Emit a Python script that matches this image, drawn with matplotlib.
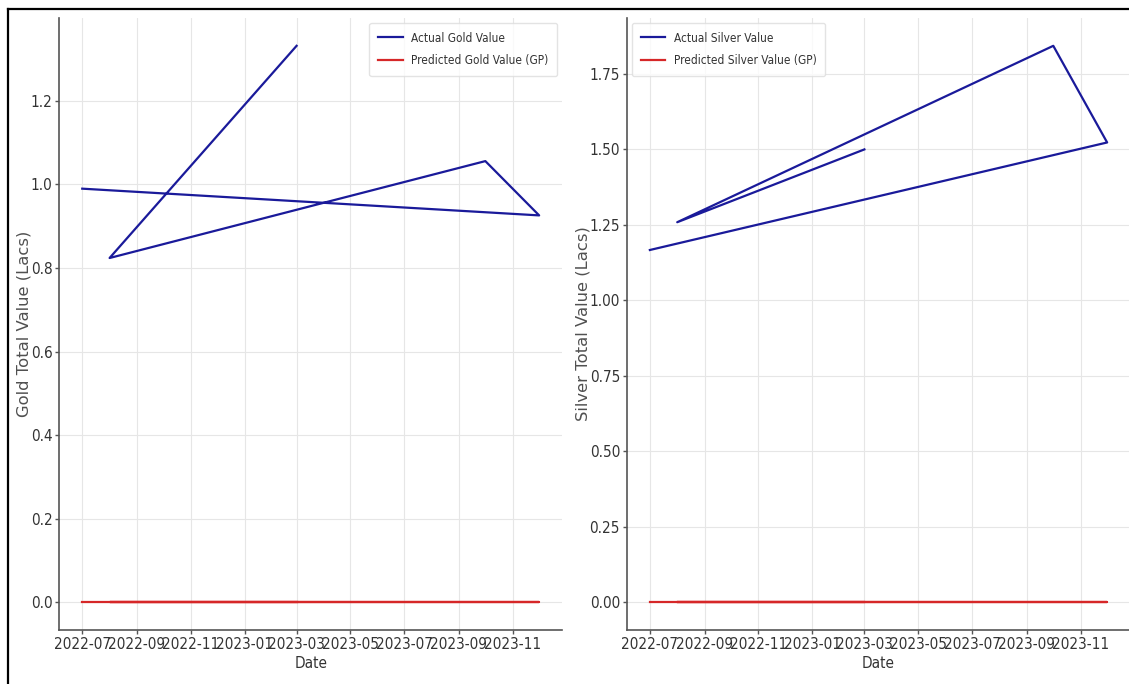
import numpy as np
import pandas as pd
import matplotlib
matplotlib.use('Agg')
import matplotlib.pyplot as plt
import matplotlib.dates as mdates
from matplotlib import font_manager as fm
from matplotlib.lines import Line2D

# data (dates come unsorted, as in the original)
dates = ['2022-07-01', '2023-12-01', '2023-10-01', '2022-08-01', '2023-03-01']
gold_actual = [0.990, 0.926, 1.056, 0.824, 1.332]
gold_pred = [0.0, 0.0, 0.0, 0.0, 0.0]
silver_actual = [1.166, 1.522, 1.842, 1.258, 1.499]
silver_pred = [0.0, 0.0, 0.0, 0.0, 0.0]

x = pd.to_datetime(dates)

# the screenshot is squeezed sideways, so a condensed face fits the text better
cond = fm.FontProperties(family='DejaVu Sans', stretch='condensed')
if 'Condensed' not in fm.findfont(cond):
    cond = fm.FontProperties(family='DejaVu Sans')

W, H = 1129, 684
fig = plt.figure(figsize=(W / 100, H / 100), dpi=100)
fig.patch.set_facecolor('white')

txt_col = '#333333'
spine_col = '#555555'

def px_box(x0, x1, y_top, y_bot):
    return [x0 / W, 1 - y_bot / H, (x1 - x0) / W, (y_bot - y_top) / H]

ax1 = fig.add_axes(px_box(59.4, 562, 18, 630))
ax2 = fig.add_axes(px_box(627, 1130, 18, 630))

panels = [
    (ax1, gold_actual, gold_pred, 'Gold', 'upper right'),
    (ax2, silver_actual, silver_pred, 'Silver', 'upper left'),
]

leg_prop = cond.copy()
leg_prop.set_size(8.5)

for ax, actual, pred, metal, loc in panels:
    ax.plot(x, actual, color='#1a1a9a', lw=1.6, label='Actual %s Value' % metal)
    ax.plot(x, pred, color='#d62728', lw=1.6, label='Predicted %s Value (GP)' % metal)
    ax.xaxis.set_major_locator(mdates.MonthLocator(bymonth=[1, 3, 5, 7, 9, 11]))
    ax.xaxis.set_major_formatter(mdates.DateFormatter('%Y-%m'))
    ax.grid(True, color='#e6e6e6', lw=0.8)
    ax.set_axisbelow(True)
    for s in ['top', 'right']:
        ax.spines[s].set_visible(False)
    for s in ['left', 'bottom']:
        ax.spines[s].set_color(spine_col)
        ax.spines[s].set_linewidth(1.2)
    ax.tick_params(colors=spine_col, labelcolor=txt_col, length=3, width=1, pad=2)
    ax.set_xlabel('Date', fontproperties=cond, fontsize=11, color=txt_col, labelpad=3)
    ax.set_ylabel('%s Total Value (Lacs)' % metal, fontsize=11.8, color='#505050',
                  labelpad=-1)
    leg = ax.legend(loc=loc, prop=leg_prop, frameon=True, handlelength=2.1,
                    handletextpad=0.7, labelspacing=0.8, borderpad=0.75,
                    borderaxespad=0.4)
    for t in leg.get_texts():
        t.set_color(txt_col)
    leg.get_frame().set_edgecolor('#dddddd')

ax1.set_yticks(np.arange(0, 1.3, 0.2))
ax2.set_yticks(np.arange(0, 1.8, 0.25))
ax2.yaxis.set_major_formatter(matplotlib.ticker.FormatStrFormatter('%.2f'))
for ax in (ax1, ax2):
    for lab in ax.get_xticklabels() + ax.get_yticklabels():
        lab.set_fontproperties(cond)
        lab.set_fontsize(11)

# screenshot border (top and left edges)
fig.add_artist(Line2D([7.5 / W, 1], [1 - 9 / H, 1 - 9 / H], color='black', lw=1.6,
                      transform=fig.transFigure))
fig.add_artist(Line2D([7.5 / W, 7.5 / W], [0, 1 - 9 / H], color='black', lw=1.6,
                      transform=fig.transFigure))

fig.savefig('out.png', dpi=100)
